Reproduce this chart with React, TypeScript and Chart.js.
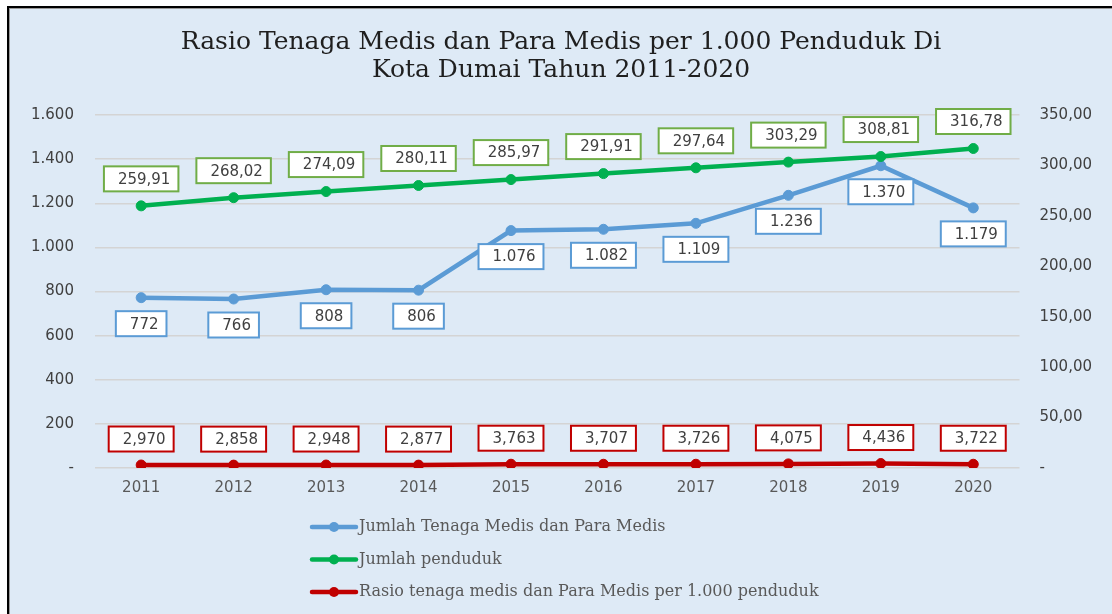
import React, { useEffect, useRef } from "react";
import { Chart, registerables } from "chart.js";

Chart.register(...registerables);

const years = ["2011", "2012", "2013", "2014", "2015", "2016", "2017", "2018", "2019", "2020"];
const tenagaMedis = [772, 766, 808, 806, 1076, 1082, 1109, 1236, 1370, 1179];
const penduduk = [259.91, 268.02, 274.09, 280.11, 285.97, 291.91, 297.64, 303.29, 308.81, 316.78];
const rasio = [2.97, 2.858, 2.948, 2.877, 3.763, 3.707, 3.726, 4.075, 4.436, 3.722];

const seriesNames = [
  "Jumlah Tenaga Medis dan Para Medis",
  "Jumlah penduduk",
  "Rasio tenaga medis dan Para Medis per 1.000 penduduk",
];
const titleLines = [
  "Rasio Tenaga Medis dan Para Medis per 1.000 Penduduk Di",
  "Kota Dumai Tahun 2011-2020",
];

const leftMax = 1600;
const leftStep = 200;
const rightMax = 350;
const rightStep = 50;

const thousands = (v: number) => String(Math.round(v)).replace(/\B(?=(\d{3})+(?!\d))/g, ".");
const decimals = (v: number, d: number) => v.toFixed(d).replace(".", ",");

const labelStyles = [
  { border: "#5B9BD5", offset: 26, fmt: (v: number) => thousands(v) },
  { border: "#70AD47", offset: -27, fmt: (v: number) => decimals(v, 2) },
  { border: "#C00000", offset: -26, fmt: (v: number) => decimals(v, 3) },
];

const boxLabels = {
  id: "boxLabels",
  afterDatasetsDraw(chart: any) {
    const ctx = chart.ctx;
    ctx.save();
    chart.data.datasets.forEach((ds: any, i: number) => {
      const st = labelStyles[i];
      const meta = chart.getDatasetMeta(i);
      meta.data.forEach((pt: any, j: number) => {
        const text = st.fmt(ds.data[j]);
        ctx.font = "15px 'DejaVu Sans'";
        const tw = ctx.measureText(text).width;
        const w = tw + 22;
        const h = 25;
        const cy = pt.y + st.offset;
        const x = pt.x - w / 2;
        const y = cy - h / 2;
        ctx.fillStyle = "#FFFFFF";
        ctx.fillRect(x, y, w, h);
        ctx.lineWidth = 2;
        ctx.strokeStyle = st.border;
        ctx.strokeRect(x, y, w, h);
        ctx.fillStyle = "#404040";
        ctx.textAlign = "center";
        ctx.textBaseline = "middle";
        ctx.fillText(text, pt.x + 3, cy + 1);
      });
    });
    ctx.restore();
  },
};

const customLegend = {
  id: "customLegend",
  afterDraw(chart: any) {
    const ctx = chart.ctx;
    ctx.save();
    const x0 = 310;
    const y0 = 527;
    const gap = 32.5;
    chart.data.datasets.forEach((ds: any, i: number) => {
      const y = y0 + i * gap;
      ctx.strokeStyle = ds.borderColor;
      ctx.lineWidth = 4.5;
      ctx.lineCap = "round";
      ctx.beginPath();
      ctx.moveTo(x0 + 2, y);
      ctx.lineTo(x0 + 46, y);
      ctx.stroke();
      ctx.fillStyle = ds.borderColor;
      ctx.beginPath();
      ctx.arc(x0 + 24, y, 5, 0, Math.PI * 2);
      ctx.fill();
      ctx.fillStyle = "#595959";
      ctx.font = "16px 'DejaVu Serif'";
      ctx.textAlign = "left";
      ctx.textBaseline = "middle";
      ctx.fillText(ds.label, x0 + 49, y);
    });
    ctx.restore();
  },
};

export default function App() {
  const ref = useRef<HTMLCanvasElement | null>(null);

  useEffect(() => {
    if (!ref.current) return;
    const mk = (label: string, data: number[], color: string, axis: string, order: number) => ({
      label,
      data,
      yAxisID: axis,
      borderColor: color,
      backgroundColor: color,
      pointBackgroundColor: color,
      pointBorderColor: color,
      borderWidth: 4.5,
      pointRadius: 5,
      pointBorderWidth: 1,
      tension: 0,
      order,
    });
    const chart = new Chart(ref.current, {
      type: "line",
      data: {
        labels: years,
        datasets: [
          mk(seriesNames[0], tenagaMedis, "#5B9BD5", "yL", 1),
          mk(seriesNames[1], penduduk, "#00B050", "yR", 0),
          mk(seriesNames[2], rasio, "#C00000", "yR", 2),
        ] as any,
      },
      options: {
        responsive: false,
        animation: false,
        events: [],
        layout: { padding: { top: 10, left: 10, right: 0, bottom: 106 } },
        plugins: {
          legend: { display: false },
          tooltip: { enabled: false },
          title: {
            display: true,
            text: titleLines,
            color: "#1F1F1F",
            font: { family: "'DejaVu Serif'", size: 25, weight: "normal", lineHeight: 1.12 },
            padding: { top: 18, bottom: 31 },
          },
        },
        scales: {
          x: {
            offset: true,
            grid: { display: false, drawTicks: false },
            border: { display: false },
            ticks: { color: "#595959", font: { family: "'DejaVu Sans'", size: 15 }, padding: 11 },
          },
          yL: {
            position: "left",
            min: 0,
            max: leftMax,
            grid: { color: "#D4D4D4", lineWidth: 1.5, drawTicks: false },
            border: { display: false },
            ticks: {
              stepSize: leftStep,
              color: "#404040",
              font: { family: "'DejaVu Sans'", size: 15 },
              padding: 21,
              callback: (v: any) => (v === 0 ? "-" : thousands(v)),
            },
          },
          yR: {
            position: "right",
            min: 0,
            max: rightMax,
            grid: { drawOnChartArea: false, drawTicks: false },
            border: { display: false },
            ticks: {
              stepSize: rightStep,
              color: "#404040",
              font: { family: "'DejaVu Sans'", size: 15 },
              padding: 20,
              callback: (v: any) => (v === 0 ? "-" : decimals(v, 2)),
            },
          },
        },
      } as any,
      plugins: [boxLabels, customLegend],
    });
    return () => chart.destroy();
  }, []);

  return (
    <div style={{ position: "fixed", left: 0, top: 0, width: 1112, height: 614, background: "#FFFFFF", overflow: "hidden" }}>
      <div
        style={{
          position: "absolute",
          left: 7,
          top: 6,
          width: 1130,
          height: 630,
          background: "#DEEAF6",
          borderLeft: "2px solid #000",
          borderTop: "2px solid #000",
          boxShadow: "inset 1px 1px 0 #9a9a9a",
        }}
      />
      <canvas ref={ref} width={1112} height={614} style={{ position: "absolute", left: 0, top: 0, display: "block" }} />
    </div>
  );
}
